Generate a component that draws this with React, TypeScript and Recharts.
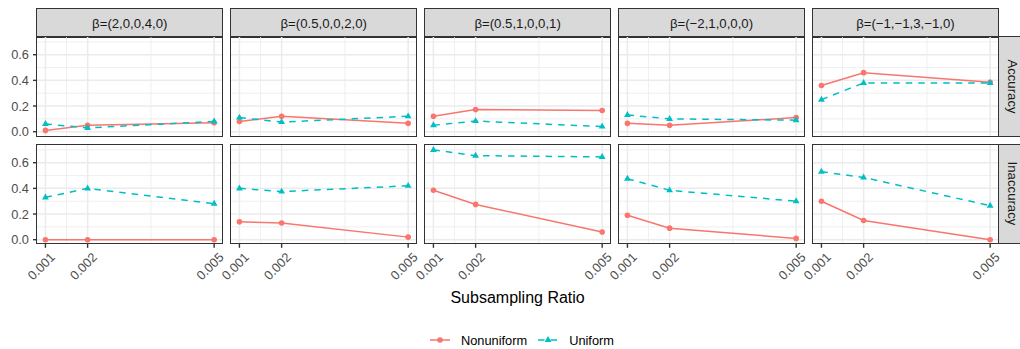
import React from "react";
import { LineChart, Line, XAxis, YAxis, CartesianGrid } from "recharts";

// ---- data ----
const ratios = [0.001, 0.002, 0.005];
const xTicks = [0.001, 0.002, 0.005];
const xMinor = [0.0015, 0.0035];
const yTicks = [0, 0.2, 0.4, 0.6];
const yMinor = [0.1, 0.3, 0.5, 0.7];
const facets = [
  "β=(2,0,0,4,0)",
  "β=(0.5,0,0,2,0)",
  "β=(0.5,1,0,0,1)",
  "β=(−2,1,0,0,0)",
  "β=(−1,−1,3,−1,0)",
];
const metrics = ["Accuracy", "Inaccuracy"];
const seriesNames = ["Nonuniform", "Uniform"];

const accNonuniform = [
  [0.01, 0.05, 0.07],
  [0.08, 0.12, 0.065],
  [0.12, 0.172, 0.165],
  [0.065, 0.05, 0.11],
  [0.36, 0.46, 0.385],
];
const accUniform = [
  [0.06, 0.03, 0.08],
  [0.11, 0.075, 0.12],
  [0.05, 0.083, 0.04],
  [0.13, 0.10, 0.09],
  [0.25, 0.38, 0.38],
];
const inaccNonuniform = [
  [0.0, 0.0, 0.0],
  [0.14, 0.13, 0.02],
  [0.385, 0.275, 0.06],
  [0.19, 0.09, 0.01],
  [0.30, 0.15, 0.0],
];
const inaccUniform = [
  [0.33, 0.40, 0.28],
  [0.40, 0.375, 0.42],
  [0.70, 0.655, 0.645],
  [0.475, 0.385, 0.30],
  [0.53, 0.485, 0.265],
];

// ---- style ----
const FONT = "'Liberation Sans', Arial, Helvetica, sans-serif";
const RED = "#F8766D";
const TEAL = "#00BFC4";
const X_DOMAIN = [0.0008, 0.0052];
const Y_DOMAIN = [-0.032, 0.738];

const P_LEFT0 = 37;
const P_STEP = 193.9;
const P_W = 185.6;
const ROW_TOPS = [37.1, 144.6];
const P_H = 98.8;
const STRIP_TOP = 8.3;
const STRIP_H = 28.8;
const Y_AXIS_W = 37;
const X_AXIS_H = 60;

function buildRows(a: number[], b: number[]) {
  return ratios.map((r, i) => ({ ratio: r, Nonuniform: a[i], Uniform: b[i] }));
}

const Triangle = (props: any) => {
  const { cx, cy } = props;
  if (cx == null || cy == null) return null;
  const s = 3.4;
  return (
    <path
      d={`M${cx},${cy - s * 1.15} L${cx - s},${cy + s * 0.6} L${cx + s},${cy + s * 0.6} Z`}
      fill={TEAL}
    />
  );
};

const XTick = (props: any) => {
  const { x, y, payload } = props;
  const ax = x + 3.5;
  const ay = y + 0.5;
  return (
    <text
      x={ax}
      y={ay}
      transform={`rotate(-45 ${ax} ${ay})`}
      textAnchor="end"
      dy="0.75em"
      fontSize={12.8}
      fill="#4D4D4D"
      fontFamily={FONT}
    >
      {Number(payload.value).toFixed(3)}
    </text>
  );
};

function Panel({ row, col }: { row: number; col: number }) {
  const nonu = row === 0 ? accNonuniform[col] : inaccNonuniform[col];
  const uni = row === 0 ? accUniform[col] : inaccUniform[col];
  const data = buildRows(nonu, uni);
  const showY = col === 0;
  const showX = row === 1;
  const left = P_LEFT0 + col * P_STEP - (showY ? Y_AXIS_W : 0);
  const top = ROW_TOPS[row];
  const width = P_W + (showY ? Y_AXIS_W : 0);
  const height = P_H + (showX ? X_AXIS_H : 0);
  return (
    <div style={{ position: "absolute", left, top, width, height }}>
      <LineChart width={width} height={height} data={data} margin={{ top: 0, right: 0, bottom: 0, left: 0 }} style={{ overflow: "visible" }}>
        <CartesianGrid
          horizontalValues={yMinor}
          verticalValues={xMinor}
          stroke="#EBEBEB"
          strokeWidth={0.8}
        />
        <CartesianGrid
          horizontalValues={yTicks}
          verticalValues={xTicks}
          stroke="#EBEBEB"
          strokeWidth={1.5}
        />
        <XAxis
          dataKey="ratio"
          type="number"
          domain={X_DOMAIN}
          ticks={xTicks}
          interval={0}
          hide={!showX}
          height={X_AXIS_H}
          axisLine={false}
          tickLine={{ stroke: "#333333", strokeWidth: 1.4 }}
          tickSize={4}
          tickMargin={3}
          tick={<XTick />}
          allowDataOverflow
        />
        <YAxis
          type="number"
          domain={Y_DOMAIN}
          ticks={yTicks}
          interval={0}
          hide={!showY}
          width={Y_AXIS_W}
          axisLine={false}
          tickLine={{ stroke: "#333333", strokeWidth: 1.4 }}
          tickSize={4}
          tickMargin={4}
          tickFormatter={(v: number) => v.toFixed(1)}
          tick={{ fontSize: 12.8, fill: "#4D4D4D", fontFamily: FONT }}
          allowDataOverflow
        />
        <Line
          type="linear"
          dataKey="Nonuniform"
          stroke={RED}
          strokeWidth={1.5}
          dot={{ r: 2.8, fill: RED, stroke: "none" }}
          isAnimationActive={false}
        />
        <Line
          type="linear"
          dataKey="Uniform"
          stroke={TEAL}
          strokeWidth={1.5}
          strokeDasharray="6.5 6"
          dot={<Triangle />}
          isAnimationActive={false}
        />
      </LineChart>
      <div
        style={{
          position: "absolute",
          left: (showY ? Y_AXIS_W : 0) - 0.7,
          top: -0.7,
          width: P_W + 1.4,
          height: P_H + 1.4,
          border: "1.4px solid #333333",
          boxSizing: "border-box",
          pointerEvents: "none",
        }}
      />
    </div>
  );
}

export default function App() {
  return (
    <div
      style={{
        position: "absolute",
        left: 0,
        top: 0,
        width: 1020,
        height: 349,
        overflow: "hidden",
        background: "#FFFFFF",
        fontFamily: FONT,
      }}
    >
      <style>{`.recharts-surface, .recharts-wrapper { overflow: visible !important; }`}</style>
      {facets.map((f, c) => (
        <div
          key={"s" + c}
          style={{
            position: "absolute",
            left: P_LEFT0 + c * P_STEP - 0.7,
            top: STRIP_TOP,
            width: P_W + 1.4,
            height: STRIP_H + 0.7,
            background: "#D9D9D9",
            border: "1.4px solid #333333",
            boxSizing: "border-box",
            display: "flex",
            alignItems: "center",
            justifyContent: "center",
            fontSize: 13.2,
            color: "#1A1A1A",
            whiteSpace: "nowrap",
          }}
        >
          {f}
        </div>
      ))}
      {metrics.map((m, r) => (
        <div
          key={"r" + r}
          style={{
            position: "absolute",
            left: P_LEFT0 + 4 * P_STEP + P_W - 0.7,
            top: ROW_TOPS[r] - 0.7,
            width: STRIP_H + 1.4,
            height: P_H + 1.4,
            background: "#D9D9D9",
            border: "1.4px solid #333333",
            boxSizing: "border-box",
            display: "flex",
            alignItems: "center",
            justifyContent: "center",
          }}
        >
          <div
            style={{
              transform: "rotate(90deg)",
              fontSize: 13.2,
              color: "#1A1A1A",
              whiteSpace: "nowrap",
            }}
          >
            {m}
          </div>
        </div>
      ))}
      {[0, 1].map((r) => [0, 1, 2, 3, 4].map((c) => <Panel key={r + "-" + c} row={r} col={c} />))}
      <div
        style={{
          position: "absolute",
          left: P_LEFT0,
          width: 4 * P_STEP + P_W,
          top: 289,
          textAlign: "center",
          fontSize: 16,
          color: "#000000",
          whiteSpace: "nowrap",
        }}
      >
        Subsampling Ratio
      </div>
      <div
        style={{
          position: "absolute",
          left: 428,
          top: 331,
          height: 18,
          display: "flex",
          alignItems: "center",
          fontSize: 12.8,
          color: "#000000",
          whiteSpace: "nowrap",
        }}
      >
        <svg width={24} height={18}>
          <line x1={2} y1={9} x2={22} y2={9} stroke={RED} strokeWidth={1.5} />
          <circle cx={12} cy={9} r={2.8} fill={RED} />
        </svg>
        <span style={{ marginLeft: 9 }}>{seriesNames[0]}</span>
        <svg width={24} height={18} style={{ marginLeft: 9 }}>
          <line x1={2} y1={9} x2={22} y2={9} stroke={TEAL} strokeWidth={1.5} strokeDasharray="6.5 6" />
          <path d="M12,5.1 L8.6,11 L15.4,11 Z" fill={TEAL} />
        </svg>
        <span style={{ marginLeft: 9 }}>{seriesNames[1]}</span>
      </div>
    </div>
  );
}
